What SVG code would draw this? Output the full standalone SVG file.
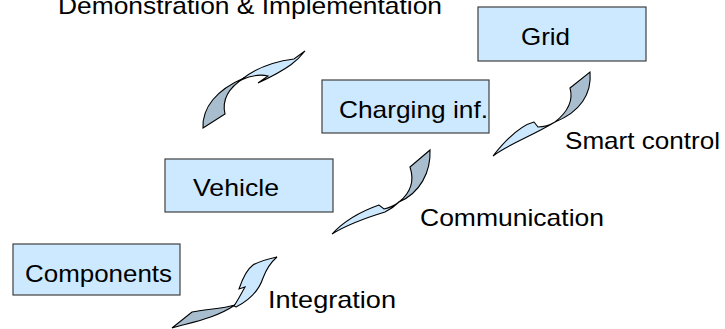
<svg xmlns="http://www.w3.org/2000/svg" width="725" height="329" viewBox="0 0 725 329">
<style>
.box{fill:#cce9ff;stroke:#404040;stroke-width:1.2}
.t{font-family:"Liberation Sans",Arial,sans-serif;font-size:24px;fill:#000}
.lt{fill:#cce8ff;stroke:#000;stroke-width:1.1;stroke-linejoin:miter}
.dk{fill:#a8bece;stroke:#000;stroke-width:1.1;stroke-linejoin:miter}
</style>
<rect width="725" height="329" fill="#fff"/>
<text class="t" x="58" y="14" textLength="384" lengthAdjust="spacingAndGlyphs">Demonstration &amp; Implementation</text>
<g id="grid"><rect class="box" x="478" y="7" width="168" height="54"/><text class="t" x="521" y="45" textLength="49" lengthAdjust="spacingAndGlyphs">Grid</text></g>
<g id="charging"><rect class="box" x="322" y="80" width="167" height="53"/><text class="t" x="339" y="118" textLength="149" lengthAdjust="spacingAndGlyphs">Charging inf.</text></g>
<g id="vehicle"><rect class="box" x="165" y="159" width="168" height="53"/><text class="t" x="193" y="196" textLength="86" lengthAdjust="spacingAndGlyphs">Vehicle</text></g>
<g id="components"><rect class="box" x="13" y="244" width="167" height="51"/><text class="t" x="25" y="282" textLength="147" lengthAdjust="spacingAndGlyphs">Components</text></g>
<g id="connectors">
<g id="arrow-demo">
<path class="dk" d="M203,128 C202,108 216,90 244,78 C233,85 221,97 225,114 Z"/>
<path class="lt" d="M241,80 C252,71 270,62 294,59 L305,51 C298,60 290,68 258,83 L268,76 C260,74 250,76 241,80 Z"/>
</g>
<g id="arrow-smart">
<path class="dk" d="M590,72 C592,94 580,112 555,122 C565,114 574,102 570,88 Z"/>
<path class="lt" d="M555,122 C550,125 544,127 538,127 L534,122 C526,124 512,132 493,156 C507,145 530,137 555,122 Z"/>
<text class="t" x="565" y="149" textLength="155" lengthAdjust="spacingAndGlyphs">Smart control</text>
</g>
<g id="arrow-comm">
<path class="dk" d="M430,150 C431,172 420,193 399,202 C409,194 415,182 410,167 Z"/>
<path class="lt" d="M399,202 C394,206 389,208 384,209 L379,205 C362,211 345,220 332,234 C345,226 362,219 385,212 C391,209 395,206 399,202 Z"/>
<text class="t" x="420" y="226" textLength="184" lengthAdjust="spacingAndGlyphs">Communication</text>
</g>
<g id="arrow-integ">
<path class="dk" d="M172,328 C193,322 216,318 235,305 C222,309 205,309 192,312 Z"/>
<path class="lt" d="M234,306 C238,300 241,294 245,287 L239,289 C242,280 246,270 253,265 C260,261 268,259 277,257 C270,263 266,270 263,278 C259,290 250,300 236,307 Z"/>
<text class="t" x="268" y="308" textLength="128" lengthAdjust="spacingAndGlyphs">Integration</text>
</g>
</g>
</svg>
